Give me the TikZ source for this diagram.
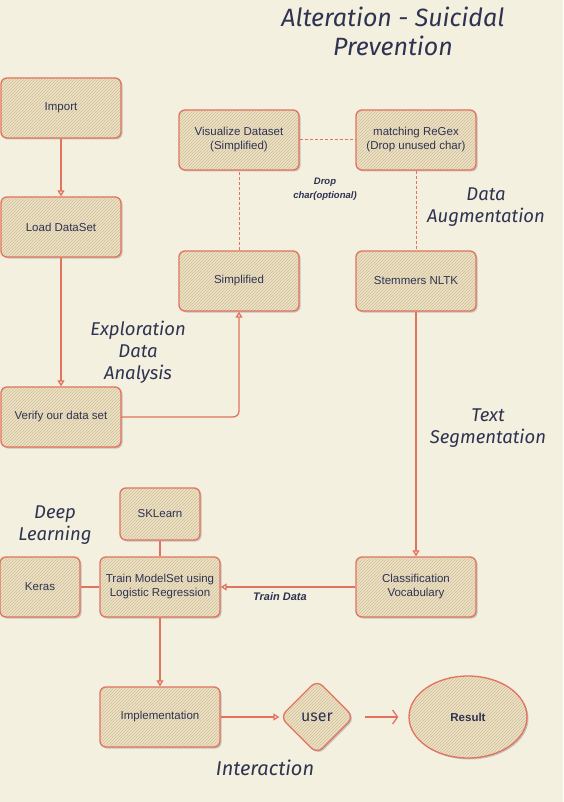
\documentclass[tikz,border=0pt]{standalone}
\usepackage{fontspec}
\setmainfont{Liberation Sans}
\newfontfamily\handfont{Fira Sans}
\usetikzlibrary{arrows.meta, positioning, patterns, shadows, shapes.geometric}

\definecolor{paper}{HTML}{F3F0DF}
\definecolor{edgered}{HTML}{E2735E}
\definecolor{boxfill}{HTML}{EEE2C3}
\definecolor{hatch}{HTML}{CDBF9F}
\definecolor{ink}{HTML}{2F3352}

\tikzset{
  box/.style={drop shadow={shadow xshift=1.5pt, shadow yshift=-1.5pt, fill=black!40, opacity=.5},
    preaction={fill=boxfill}, pattern=north east lines, pattern color=hatch,
    draw=edgered, line width=1.3pt, rounded corners=6pt,
    minimum width=120pt, minimum height=60pt, align=center, text=ink,
    font=\fontsize{11.5}{14}\selectfont},
  small box/.style={box, minimum width=80pt},
  hand/.style={text=ink, align=center, font=\handfont\itshape\fontsize{18.5}{22}\selectfont},
  note/.style={text=ink, align=center, font=\bfseries\itshape\fontsize{9.5}{14}\selectfont},
  flow/.style={draw=edgered, line width=1.3pt},
  link/.style={draw=edgered, line width=1pt, dash pattern=on 3pt off 2pt}
}

\begin{document}
\begin{tikzpicture}[x=1pt, y=-1pt, >={Triangle[open,length=6pt,width=7pt]}]
\useasboundingbox[fill=paper] (0,0) rectangle (563,802);

% title
  \node[hand, font=\handfont\itshape\fontsize{25}{29}\selectfont] (title) at (393,31)
{Alteration - Suicidal\\Prevention};

% define the boxes
  \node[box]   (import) at (61,108)
{Import};
  \node[box]   (load)   [node distance=119pt, below of=import]
{Load DataSet};
  \node[box]   (verify) [node distance=190pt, below of=load]
{Verify our data set};
  \node[box]   (visual) at (239,140)
{Visualize Dataset\\(Simplified)};
  \node[box]   (regex)  [node distance=177pt, right of=visual]
{matching ReGex\\(Drop unused char)};
  \node[box]   (simpl)  [node distance=141pt, below of=visual]
{Simplified};
  \node[box]   (stem)   [node distance=177pt, right of=simpl]
{Stemmers NLTK};
  \node[box]   (classif) [node distance=306pt, below of=stem]
{Classification\\Vocabulary};
  \node[box]   (train)  [node distance=256pt, left of=classif]
{Train ModelSet using\\Logistic Regression};
  \node[small box, minimum height=52pt] (sklearn) [node distance=73pt, above of=train]
{SKLearn};
  \node[small box] (keras) [node distance=120pt, left of=train]
{Keras};
  \node[box]   (impl)   [node distance=130pt, below of=train]
{Implementation};
  \node[box, diamond, minimum width=74pt, minimum height=74pt, inner sep=0pt, rounded corners=8pt,
    font=\handfont\fontsize{16}{18}\selectfont] (user) [node distance=157pt, right of=impl]
{user};
  \node[box, ellipse, minimum width=118pt, minimum height=82pt, font=\bfseries\fontsize{11.5}{14}\selectfont]
    (result) [node distance=151pt, right of=user]
{Result};

% side labels
  \node[hand] (explore) at (138,352) {Exploration\\Data\\Analysis};
  \node[hand] (augment) at (486,207) {Data\\Augmentation};
  \node[hand] (segment) at (488,428) {Text\\Segmentation};
  \node[hand] (deep)    at (55,525)  {Deep\\Learning};
  \node[hand, font=\handfont\itshape\fontsize{20}{22}\selectfont] (interact) at (265,768) {Interaction};
  \node[note] (drop)    at (325,189) {Drop\\char(optional)};

% define the links
  \path[->, flow] (import) edge (load)
        (load) edge (verify)
        (stem) edge (classif)
        (classif) edge node[note, below=2pt, pos=.56, font=\bfseries\itshape\fontsize{11}{13}\selectfont] {Train Data} (train)
        (train) edge (impl)
        (impl) edge (user);
  \draw[->, flow, rounded corners=6pt] (verify) -| (simpl);
  \draw[flow] (sklearn) -- (train)
        (keras) -- (train);
  \draw[link] (simpl) -- (visual)
        (visual) -- (regex)
        (regex) -- (stem);
  \draw[flow, -{Straight Barb[length=5pt,width=14pt]}, shorten <=10pt, shorten >=10pt] (user) -- (result);

\end{tikzpicture}
\end{document}
